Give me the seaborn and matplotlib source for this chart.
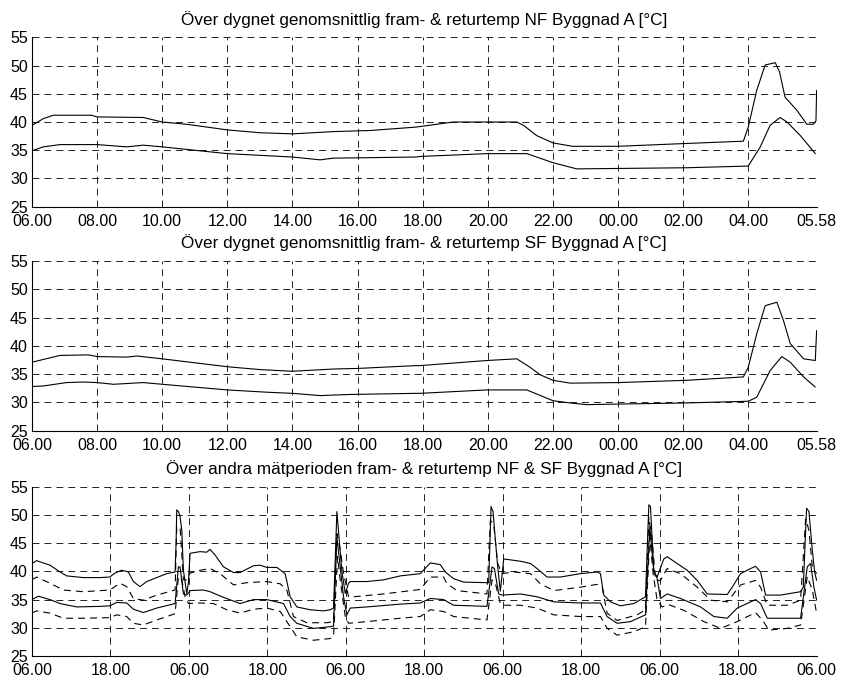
import seaborn as sns
import matplotlib.pyplot as plt

# time axis in hours after 06.00
day_ticks = [0, 2, 4, 6, 8, 10, 12, 14, 16, 18, 20, 22, 24.1]
day_labels = ['06.00', '08.00', '10.00', '12.00', '14.00', '16.00', '18.00',
              '20.00', '22.00', '00.00', '02.00', '04.00', '05.58']
period_ticks = [0, 12, 24, 36, 48, 60, 72, 84, 96, 108, 120]
period_labels = ['06.00', '18.00'] * 5 + ['06.00']

titles = ['Över dygnet genomsnittlig fram- & returtemp NF Byggnad A [°C]',
          'Över dygnet genomsnittlig fram- & returtemp SF Byggnad A [°C]',
          'Över andra mätperioden fram- & returtemp NF & SF Byggnad A [°C]']

# NF, average day
nf_day_fram_t = [0, 0.35, 0.66, 1.83, 2.0, 3.42, 4.0, 4.75, 6.0, 7.0, 8.0, 9.26, 10.4, 11.8,
                 11.92, 12.94, 14.89, 15.1, 15.5, 16.0, 16.6, 18.0, 20.1, 21.85, 22.0,
                 22.26, 22.52, 22.83, 22.96, 23.13, 23.49, 23.8, 24.0, 24.08, 24.1]
nf_day_fram = [39.4, 40.6, 41.2, 41.2, 40.9, 40.8, 40.0, 39.6, 38.6, 38.1, 37.9, 38.3, 38.5, 39.1,
               39.2, 40.0, 40.0, 39.4, 37.6, 36.3, 35.7, 35.7, 36.2, 36.6, 39.1,
               45.6, 50.1, 50.5, 48.9, 44.4, 42.1, 39.6, 39.6, 40.2, 45.6]
nf_day_ret_t = [0, 0.35, 0.86, 2.0, 2.91, 3.42, 4.0, 5.16, 6.0, 7.0, 8.0, 8.85, 9.26, 11.8,
                11.92, 13.97, 15.2, 16.0, 16.73, 20.1, 22.0, 22.37, 22.67, 22.98, 23.19,
                23.6, 24.06]
nf_day_ret = [34.9, 35.6, 36.0, 36.0, 35.6, 35.9, 35.6, 34.9, 34.4, 34.1, 33.8, 33.3, 33.6, 33.8,
              33.9, 34.4, 34.4, 32.8, 31.7, 31.9, 32.2, 35.6, 39.4, 40.8, 40.0,
              37.6, 34.4]

# SF, average day
sf_day_fram_t = [0, 0.86, 1.73, 2.0, 2.91, 3.22, 4.0, 6.0, 7.0, 8.0, 9.26, 10.0, 11.8,
                 11.92, 13.97, 14.89, 15.3, 15.6, 16.0, 16.53, 18.0, 20.1, 21.85, 22.0,
                 22.26, 22.52, 22.88, 23.08, 23.29, 23.7, 24.06, 24.1]
sf_day_fram = [37.1, 38.3, 38.4, 38.1, 38.0, 38.2, 37.7, 36.3, 35.8, 35.5, 35.9, 36.0, 36.5,
               36.5, 37.4, 37.7, 36.2, 34.9, 33.9, 33.4, 33.5, 33.9, 34.5, 36.2,
               42.1, 47.1, 47.7, 44.5, 40.4, 37.7, 37.4, 42.7]
sf_day_ret_t = [0, 0.35, 1.06, 1.58, 2.0, 2.5, 3.42, 4.0, 6.0, 7.21, 8.0, 8.85, 9.77, 11.8,
                11.92, 13.97, 15.2, 16.0, 16.53, 17.04, 18.0, 20.1, 22.0, 22.26, 22.67,
                23.03, 23.29, 23.7, 24.06]
sf_day_ret = [32.8, 32.9, 33.5, 33.6, 33.5, 33.2, 33.5, 33.2, 32.2, 31.8, 31.6, 31.2, 31.4, 31.6,
              31.6, 32.2, 32.2, 30.3, 29.9, 29.6, 29.7, 29.9, 30.2, 30.9, 35.6,
              38.1, 37.1, 34.5, 32.7]

# second measuring period (hours after first 06.00)
nf_per_fram_t = [0, 0.71, 1.73, 2.76, 4.29, 5.31, 7.86, 10.41, 11.89, 12.70, 13.72, 14.74,
                 15.51, 16.53, 17.55, 19.08, 20.61, 21.89, 22.04, 22.14, 22.40, 22.65, 22.91,
                 23.16, 23.67, 23.93, 24.18, 25.71, 26.73, 27.24, 28.01, 29.29, 30.82, 31.84,
                 33.88, 34.90, 35.92, 37.45, 38.72, 39.49, 40.51, 42.55, 44.59, 45.61, 46.12,
                 46.38, 46.63, 46.89, 47.40, 47.91, 48.42, 48.67, 51.22, 53.77, 56.33, 59.39,
                 60.92, 62.45, 63.22, 64.49, 66.02, 69.59, 69.85, 70.21, 70.51, 70.87, 71.23,
                 71.63, 72.15, 74.70, 76.23, 77.25, 78.78, 80.82, 83.88, 86.43, 86.94, 87.45,
                 88.47, 90.00, 92.04, 93.83, 94.34, 94.59, 95.10, 95.61, 96.63, 97.14, 98.67,
                 100.20, 101.74, 103.27, 106.33, 107.09, 108.37, 109.90, 110.66, 111.43,
                 112.20, 114.49, 117.55, 117.96, 118.47, 118.83, 119.34, 119.70, 120.0]
nf_per_fram = [41.4, 41.9, 41.5, 41.1, 39.9, 39.2, 38.9, 38.9, 39.0, 39.7, 40.2, 39.9,
               38.2, 37.3, 38.2, 38.9, 39.6, 39.9, 45.0, 50.9, 50.6, 49.7, 47.3,
               40.2, 36.1, 38.0, 43.2, 43.5, 43.4, 43.9, 42.9, 40.8, 39.8, 39.8,
               41.0, 41.1, 40.7, 40.7, 39.6, 35.5, 33.7, 33.2, 33.0, 33.2, 33.5,
               42.0, 50.6, 47.0, 40.0, 36.1, 37.9, 38.2, 38.2, 38.5, 39.2, 39.6,
               41.5, 41.2, 39.9, 38.7, 38.1, 38.0, 38.0, 51.5, 50.6, 45.6, 40.8,
               36.5, 42.2, 41.8, 41.4, 40.5, 39.0, 39.0, 39.6, 39.9, 39.6, 35.8,
               34.6, 33.9, 34.3, 35.5, 51.8, 51.5, 40.0, 39.0, 42.2, 42.6, 41.4,
               40.2, 38.4, 36.0, 35.9, 37.2, 39.6, 40.5, 40.9, 39.9,
               35.8, 35.8, 36.4, 37.2, 51.2, 50.6, 43.8, 39.9, 38.4]
nf_per_ret_t = [0, 0.97, 2.76, 4.29, 6.84, 10.41, 11.89, 12.96, 14.49, 15.51, 17.04, 19.08,
                21.89, 22.40, 22.65, 23.16, 23.67, 24.18, 26.22, 27.24, 29.29, 31.84, 33.88,
                35.92, 38.47, 39.49, 40.51, 43.06, 45.61, 46.12, 46.63, 47.14, 47.65, 48.16,
                48.67, 51.22, 56.33, 59.39, 60.92, 62.96, 64.49, 69.59, 70.36, 70.72, 71.38,
                71.89, 74.70, 77.25, 79.80, 83.88, 86.94, 87.96, 89.49, 91.53, 93.83, 94.49,
                95.10, 95.61, 96.12, 97.14, 99.18, 102.25, 104.29, 106.33, 107.86, 110.66,
                111.43, 112.45, 117.55, 118.57, 119.08, 119.59, 120.0]
nf_per_ret = [35.0, 35.6, 35.0, 34.3, 33.7, 33.8, 33.9, 34.5, 34.4, 33.3, 32.7, 33.5,
              34.3, 40.8, 40.8, 36.0, 35.8, 36.6, 36.7, 36.4, 35.4, 34.3, 35.0,
              35.0, 34.3, 32.0, 30.8, 29.9, 30.2, 30.3, 46.1, 40.8, 35.5, 32.3,
              33.5, 33.7, 34.2, 34.4, 35.2, 35.0, 34.0, 33.8, 40.8, 40.5, 36.0,
              35.8, 36.0, 35.5, 34.6, 34.4, 34.4, 32.0, 30.8, 31.1, 32.3, 47.9,
              40.0, 38.8, 35.2, 36.0, 35.2, 33.7, 32.0, 31.7, 33.5, 35.0,
              34.3, 31.7, 31.7, 40.8, 41.4, 37.2, 34.9]
sf_per_fram_t = [0, 0.71, 2.76, 4.80, 7.86, 11.89, 13.47, 14.49, 15.51, 17.04, 19.08, 21.89,
                 22.14, 22.65, 23.16, 23.67, 24.18, 25.71, 27.24, 28.77, 30.82, 32.86, 35.92,
                 37.96, 38.98, 40.00, 42.04, 45.10, 46.12, 46.63, 47.14, 47.65, 48.42, 49.18,
                 53.77, 59.39, 60.92, 62.96, 63.47, 65.00, 69.59, 70.10, 70.61, 71.23, 71.89,
                 73.68, 76.23, 77.76, 79.80, 83.88, 86.43, 87.20, 87.96, 89.49, 92.55, 93.83,
                 94.34, 94.85, 95.36, 96.12, 97.14, 99.18, 101.74, 103.78, 106.33, 108.37,
                 110.66, 111.43, 112.45, 115.51, 117.55, 118.32, 118.83, 119.34, 120.0]
sf_per_fram = [38.5, 39.0, 37.9, 36.7, 36.4, 36.7, 37.9, 37.3, 35.2, 34.9, 35.8, 36.7,
               47.9, 47.9, 38.5, 38.5, 39.7, 40.2, 40.5, 39.6, 37.6, 38.0, 38.2,
               37.8, 36.7, 32.0, 30.9, 30.9, 31.1, 46.7, 43.8, 39.7, 35.5, 35.5,
               36.0, 36.8, 39.0, 39.0, 37.8, 36.6, 36.0, 49.0, 48.4, 41.4, 39.6,
               39.9, 39.6, 37.8, 36.6, 37.2, 37.7, 37.2, 32.6, 31.3, 32.3, 33.2,
               49.6, 45.5, 38.4, 38.4, 40.5, 39.6, 37.2, 34.9, 34.6, 37.6,
               38.4, 37.2, 34.0, 34.0, 34.9, 49.3, 47.3, 40.8, 39.6]
sf_per_ret_t = [0, 0.71, 2.76, 4.80, 7.86, 11.89, 12.96, 14.49, 15.51, 17.04, 19.08, 21.89,
                22.40, 22.91, 23.42, 23.93, 25.71, 27.75, 29.79, 31.84, 33.88, 35.92, 37.96,
                39.49, 40.51, 43.06, 45.61, 46.12, 46.73, 47.14, 47.91, 48.42, 51.22, 56.33,
                59.39, 60.92, 62.96, 64.49, 69.59, 70.36, 70.87, 71.63, 72.15, 74.70, 77.25,
                79.80, 83.88, 86.94, 87.96, 89.49, 92.04, 93.83, 94.49, 95.00, 95.61, 96.38,
                97.40, 99.69, 102.76, 105.31, 107.86, 110.66, 111.69, 112.71, 115.51, 117.55,
                118.57, 119.34, 120.0]
sf_per_ret = [32.6, 33.0, 32.6, 31.7, 31.7, 31.8, 32.3, 32.0, 30.8, 30.5, 31.4, 32.5,
              39.1, 38.5, 35.5, 34.3, 34.4, 34.3, 33.2, 32.6, 33.3, 33.5, 32.9,
              30.2, 28.4, 27.8, 28.1, 28.4, 42.6, 38.5, 32.0, 30.8, 31.1, 31.7,
              32.0, 33.2, 32.9, 32.0, 31.4, 38.5, 37.9, 34.3, 34.0, 34.0, 33.5,
              32.3, 32.0, 32.0, 29.9, 28.7, 29.3, 30.2, 46.1, 39.6, 34.9, 33.7,
              34.1, 33.1, 31.1, 29.9, 31.1, 32.7, 31.4, 29.6, 29.9, 30.5,
              39.1, 36.7, 32.6]

sns.set_style('white')
plt.rcParams['font.family'] = ['Liberation Sans', 'DejaVu Sans']
plt.rcParams['lines.scale_dashes'] = False

dash = (0, (5, 3.6))
fig = plt.figure(figsize=(8.41, 6.78), dpi=100)
boxes = [[0.038, 0.6951, 0.933, 0.2499],
         [0.038, 0.3648, 0.933, 0.2503],
         [0.038, 0.0324, 0.933, 0.2497]]
axes = [fig.add_axes(b) for b in boxes]

ax = axes[0]
sns.lineplot(x=nf_day_fram_t, y=nf_day_fram, ax=ax, color='k', lw=0.8, sort=False, estimator=None)
sns.lineplot(x=nf_day_ret_t, y=nf_day_ret, ax=ax, color='k', lw=0.8, sort=False, estimator=None)

ax = axes[1]
sns.lineplot(x=sf_day_fram_t, y=sf_day_fram, ax=ax, color='k', lw=0.8, sort=False, estimator=None)
sns.lineplot(x=sf_day_ret_t, y=sf_day_ret, ax=ax, color='k', lw=0.8, sort=False, estimator=None)

ax = axes[2]
sns.lineplot(x=nf_per_fram_t, y=nf_per_fram, ax=ax, color='k', lw=0.8, sort=False, estimator=None)
sns.lineplot(x=nf_per_ret_t, y=nf_per_ret, ax=ax, color='k', lw=0.8, sort=False, estimator=None)
sns.lineplot(x=sf_per_fram_t, y=sf_per_fram, ax=ax, color='k', lw=0.8, sort=False,
             estimator=None, linestyle=dash)
sns.lineplot(x=sf_per_ret_t, y=sf_per_ret, ax=ax, color='k', lw=0.8, sort=False,
             estimator=None, linestyle=dash)

for i, ax in enumerate(axes):
    if i < 2:
        ax.set_xlim(0, 24.1)
        ax.set_xticks(day_ticks)
        ax.set_xticklabels(day_labels)
    else:
        ax.set_xlim(0, 120)
        ax.set_xticks(period_ticks)
        ax.set_xticklabels(period_labels)
    ax.set_ylim(25, 55)
    ax.set_yticks([25, 30, 35, 40, 45, 50, 55])
    ax.grid(True, color='k', lw=0.6, linestyle=dash)
    ax.tick_params(direction='in', length=4, width=0.6, labelsize=11.5, colors='k')
    ax.tick_params(axis='x', pad=5)
    ax.tick_params(axis='y', pad=3)
    for s in ['top', 'right']:
        ax.spines[s].set_visible(False)
    for s in ['left', 'bottom']:
        ax.spines[s].set_color('k')
        ax.spines[s].set_linewidth(0.8)
    ax.set_title(titles[i], fontsize=12.3, pad=9, color='k')

fig.savefig('out.png', dpi=100)
